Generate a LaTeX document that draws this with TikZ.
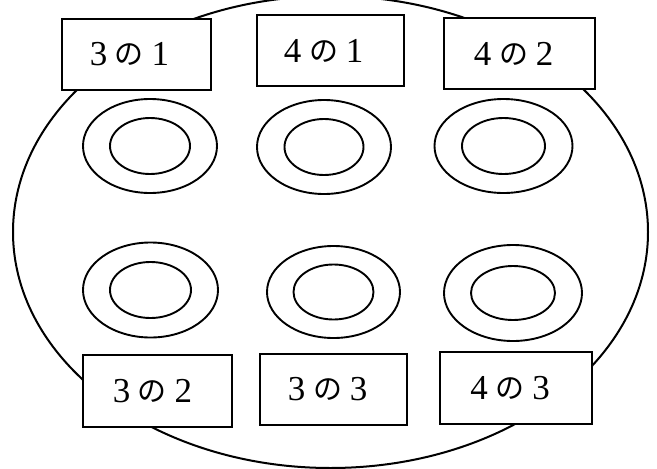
\documentclass[tikz,border=0pt]{standalone}
\usepackage{fontspec}
\setmainfont{Liberation Serif}
\newfontfamily\jpfont{Noto Sans CJK JP}
\newcommand{\lbl}[3]{\fontsize{35}{35}\selectfont\makebox[31pt]{#1}\makebox[31pt]{\jpfont\fontsize{29}{29}\selectfont\raisebox{1pt}{#2}}\makebox[31pt]{#3}}
\begin{document}
\begin{tikzpicture}[x=1pt,y=-1pt,
  lbox/.style={draw,line width=2pt,fill=white,minimum width=#1,minimum height=71pt,inner sep=0pt},
  ringline/.style={line width=1.9pt}]
\useasboundingbox (0,0) rectangle (657,469);
\clip (0,0) rectangle (657,469);
% outer ellipse
\draw[line width=2pt] (330.5,232) ellipse [x radius=317.5, y radius=236];
% rings
\foreach \n/\cx/\cy/\ox/\oy/\ix/\iy in {
  r1/150/146/67/47/40/28,
  r2/324/147/67/47/39.5/28,
  r3/503.5/146/69/47/41.5/28,
  r4/150.5/290/67.5/47.5/40.5/28,
  r5/333.5/292/66.5/46/40/27.5,
  r6/513/293/69/48/42/27}{
  \coordinate (\n) at (\cx,\cy);
  \draw[ringline] (\n) ellipse [x radius=\ox, y radius=\oy];
  \draw[ringline] (\n) ellipse [x radius=\ix, y radius=\iy];
}
% boxes
\node[lbox=149pt] (b31) at (136.5,54) {};
\node[xshift=-7pt] (t31) at (b31) {\lbl{3}{の}{1}};
\node[lbox=147pt] (b41) at (330.5,50.5) {};
\node[xshift=-7pt] (t41) at (b41) {\lbl{4}{の}{1}};
\node[lbox=151pt] (b42) at (519.5,53.5) {};
\node[xshift=-6pt] (t42) at (b42) {\lbl{4}{の}{2}};
\node[lbox=149pt,minimum height=72pt] (b32) at (157.5,391) {};
\node[xshift=-5pt] (t32) at (b32) {\lbl{3}{の}{2}};
\node[lbox=147pt] (b33) at (333.5,389.5) {};
\node[xshift=-6pt] (t33) at (b33) {\lbl{3}{の}{3}};
\node[lbox=152pt,minimum height=72pt] (b43) at (516,388) {};
\node[xshift=-6pt] (t43) at (b43) {\lbl{4}{の}{3}};
\end{tikzpicture}
\end{document}
